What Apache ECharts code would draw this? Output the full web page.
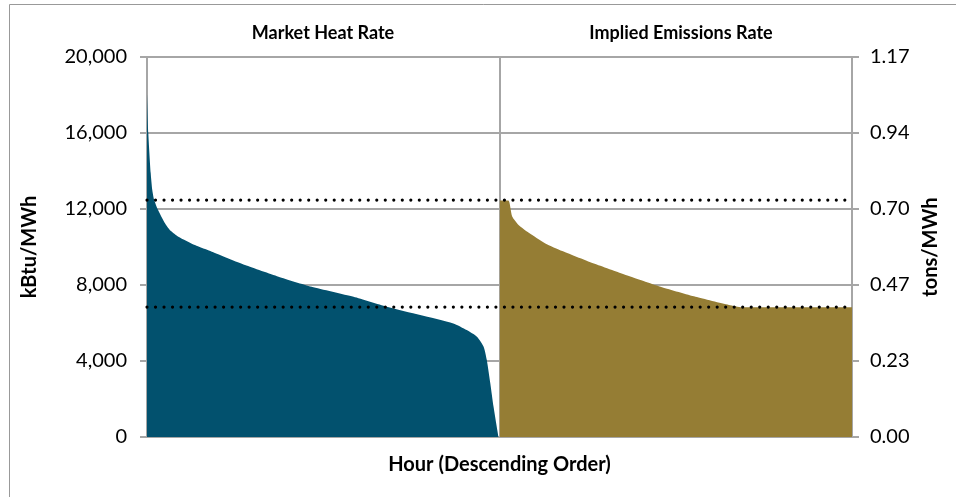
<!DOCTYPE html>
<html>
<head>
<meta charset="utf-8">
<script src="https://cdn.jsdelivr.net/npm/echarts@6/dist/echarts.min.js"></script>
<style>
html,body{margin:0;padding:0;background:#fff;}
#chart{width:956px;height:497px;}
</style>
</head>
<body>
<div id="chart"></div>
<script>
// Hour position (percent of the sorted year, left panel 0-100, right panel 100-200)
const heatHours = [0, 0.37, 1.05, 1.5, 2.0, 3.0, 5.1, 6.7, 8.9, 13.6, 18.4, 27.8, 37.3, 46.7, 58.6, 68.0, 77.5, 86.9, 90.7, 93.6, 95.5, 96.4, 97.4, 98.3, 99.7];
// Market heat rate, kBtu/MWh
const heatRate = [18100, 16000, 13900, 13000, 12500, 12000, 11250, 10850, 10540, 10100, 9750, 9050, 8440, 7910, 7380, 6860, 6420, 5980, 5630, 5280, 4750, 4050, 2820, 1600, 0];
// Implied emissions panel (plotted on kBtu/MWh scale)
const emisHours = [100.1, 102.5, 103.6, 105.4, 108.3, 113.0, 117.8, 127.2, 136.7, 146.1, 155.6, 165.1, 168.8, 200];
const emisRate = [12450, 12450, 11600, 11160, 10750, 10190, 9790, 9100, 8470, 7880, 7380, 6950, 6830, 6830];
// Dotted reference levels, kBtu/MWh
const refLevels = [12470, 6840];
// Axis ticks
const leftTicks = [0, 4000, 8000, 12000, 16000, 20000];
const rightTicks = [0.00, 0.23, 0.47, 0.70, 0.94, 1.17];
const panelTitles = ['Market Heat Rate', 'Implied Emissions Rate'];

const FONT = 'Lato, "Open Sans", sans-serif';
const GRID_COLOR = '#a6a6a6';

const chart = echarts.init(document.getElementById('chart'));
const zip = (xs, ys) => xs.map((x, i) => [x, ys[i]]);

const series = [
  {
    type: 'line', data: zip(heatHours, heatRate), symbol: 'none', silent: true, smooth: 0.2,
    lineStyle: {width: 0}, areaStyle: {color: '#02516E', opacity: 1}, z: 2
  },
  {
    type: 'line', data: zip(emisHours, emisRate), symbol: 'none', silent: true, smooth: 0.2,
    lineStyle: {width: 0}, areaStyle: {color: '#957D34', opacity: 1}, z: 2
  }
];
refLevels.forEach(v => series.push({
  type: 'line', data: [[0, v], [200, v]], symbol: 'none', silent: true,
  lineStyle: {color: '#000', width: 3.2, type: [0.01, 8.5], cap: 'round'}, z: 5
}));

chart.setOption({
  animation: false,
  backgroundColor: '#fff',
  grid: {left: 147, right: 104, top: 57, bottom: 60},
  title: [
    {text: panelTitles[0], left: 318, top: 19, textAlign: 'center',
     textStyle: {fontFamily: FONT, fontWeight: 'bold', fontSize: 18, color: '#000'}},
    {text: panelTitles[1], left: 676, top: 19, textAlign: 'center',
     textStyle: {fontFamily: FONT, fontWeight: 'bold', fontSize: 18, color: '#000'}}
  ],
  graphic: [{
    type: 'rect', shape: {x: 9.5, y: 4.5, width: 1000, height: 1000},
    style: {fill: 'none', stroke: '#999', lineWidth: 1}, silent: true, z: -10
  }],
  xAxis: {
    type: 'value', min: 0, max: 200, interval: 100,
    name: 'Hour (Descending Order)', nameLocation: 'middle', nameGap: 18,
    nameTextStyle: {fontFamily: FONT, fontWeight: 'bold', fontSize: 20, color: '#000'},
    axisLine: {show: true, lineStyle: {color: GRID_COLOR, width: 2}},
    axisTick: {show: false},
    axisLabel: {show: false},
    splitLine: {show: true, lineStyle: {color: GRID_COLOR, width: 2}}
  },
  yAxis: [
    {
      type: 'value', min: leftTicks[0], max: leftTicks[leftTicks.length - 1],
      interval: leftTicks[1] - leftTicks[0],
      name: 'kBtu/MWh', nameLocation: 'middle', nameGap: 107, nameRotate: 90,
      nameTextStyle: {fontFamily: FONT, fontWeight: 'bold', fontSize: 20, color: '#000'},
      axisLine: {show: true, lineStyle: {color: GRID_COLOR, width: 2}},
      axisTick: {show: true, length: 7, lineStyle: {color: GRID_COLOR, width: 2}},
      axisLabel: {margin: 20, fontFamily: FONT, fontSize: 20, color: '#000',
        formatter: v => v.toLocaleString('en-US')},
      splitLine: {show: true, lineStyle: {color: GRID_COLOR, width: 2}}
    },
    {
      type: 'value', min: 0, max: rightTicks[rightTicks.length - 1],
      interval: rightTicks[rightTicks.length - 1] / (rightTicks.length - 1),
      position: 'right',
      name: 'tons/MWh', nameLocation: 'middle', nameGap: 66, nameRotate: 90,
      nameTextStyle: {fontFamily: FONT, fontWeight: 'bold', fontSize: 20, color: '#000'},
      axisLine: {show: true, lineStyle: {color: GRID_COLOR, width: 2}},
      axisTick: {show: true, length: 7, lineStyle: {color: GRID_COLOR, width: 2}},
      axisLabel: {margin: 18, fontFamily: FONT, fontSize: 20, color: '#000',
        formatter: (v) => {
          const i = Math.round(v / (rightTicks[rightTicks.length - 1] / (rightTicks.length - 1)));
          return rightTicks[i].toFixed(2);
        }},
      splitLine: {show: false}
    }
  ],
  series: series
});
</script>
</body>
</html>
